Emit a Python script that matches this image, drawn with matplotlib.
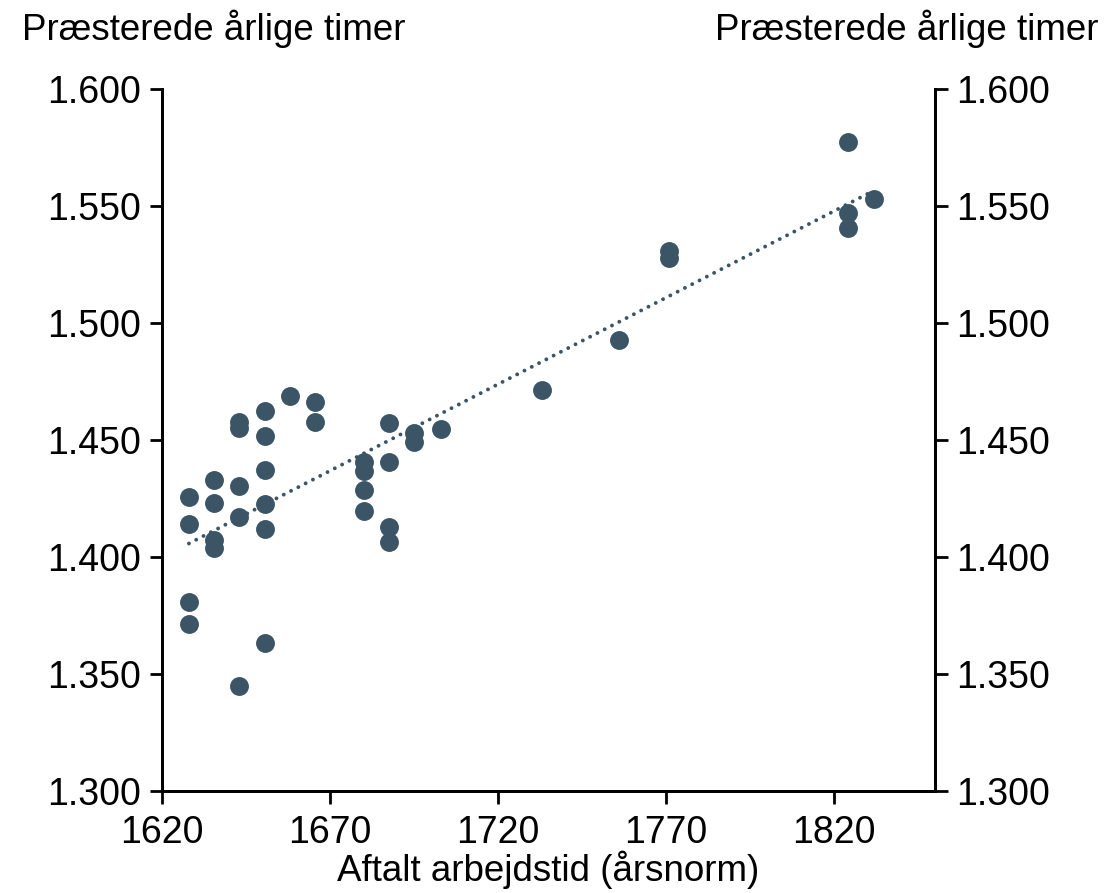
import numpy as np
import matplotlib
matplotlib.use("Agg")
import matplotlib.pyplot as plt
from matplotlib.ticker import FuncFormatter

plt.rcParams['font.family'] = ['Liberation Sans', 'DejaVu Sans']

# aftalt arbejdstid (årsnorm) og præsterede årlige timer
norm = [1628, 1628, 1628, 1628,
        1635.5, 1635.5, 1635.5, 1635.5,
        1643, 1643, 1643, 1643, 1643,
        1650.5, 1650.5, 1650.5, 1650.5, 1650.5, 1650.5,
        1658,
        1665.5, 1665.5,
        1680, 1680, 1680, 1680,
        1687.5, 1687.5, 1687.5, 1687.5,
        1695, 1695,
        1703,
        1733,
        1756,
        1771, 1771,
        1824, 1824, 1824,
        1832]
timer = [1425.8, 1414.0, 1380.9, 1371.4,
         1432.9, 1423.2, 1407.3, 1403.7,
         1457.8, 1455.0, 1430.3, 1417.2, 1345.0,
         1462.5, 1451.8, 1437.2, 1422.6, 1412.0, 1363.1,
         1468.8,
         1466.4, 1457.8,
         1440.7, 1436.9, 1428.6, 1419.7,
         1457.1, 1440.7, 1413.0, 1406.5,
         1452.9, 1449.3,
         1454.6,
         1471.4,
         1492.7,
         1530.8, 1527.7,
         1577.5, 1546.9, 1540.5,
         1552.9]

x_ticks = [1620, 1670, 1720, 1770, 1820]
y_ticks = [1300, 1350, 1400, 1450, 1500, 1550, 1600]

col = '#3b5566'

fig = plt.figure(figsize=(11.12, 8.93), dpi=100)
ax = fig.add_axes([0.1457, 0.1142, 0.6951, 0.7861])

x = np.array(norm)
y = np.array(timer)
ax.scatter(x, y, s=185, color=col, zorder=3, linewidths=0)

# lineær tendenslinje
a, b = np.polyfit(x, y, 1)
xs = np.array([x.min(), x.max()])
ax.plot(xs, a * xs + b, color=col, lw=2.8, dashes=(0.01, 2.1),
        dash_capstyle='round', zorder=2)

ax.set_xlim(1620, 1850)
ax.set_ylim(1300, 1600)
ax.set_xticks(x_ticks)
ax.set_yticks(y_ticks)

fmt = FuncFormatter(lambda v, p: f"{int(v):,}".replace(",", "."))
ax.yaxis.set_major_formatter(fmt)

ax2 = ax.twinx()
ax2.set_ylim(1300, 1600)
ax2.set_yticks(y_ticks)
ax2.yaxis.set_major_formatter(fmt)

for a_ in (ax, ax2):
    a_.spines['top'].set_visible(False)
    for s in a_.spines.values():
        s.set_linewidth(2)
    a_.tick_params(length=9, width=2, labelsize=27, direction='out')
ax.tick_params(axis='y', pad=6)
ax2.tick_params(axis='y', pad=6)
ax.tick_params(axis='x', pad=8)

ax.set_xlabel("Aftalt arbejdstid (årsnorm)", fontsize=26.5, labelpad=0)

fig.text(0.02, 0.968, "Præsterede årlige timer", fontsize=26.5, ha='left', va='center')
fig.text(0.988, 0.968, "Præsterede årlige timer", fontsize=26.5, ha='right', va='center')

fig.savefig("out.png", dpi=100)
